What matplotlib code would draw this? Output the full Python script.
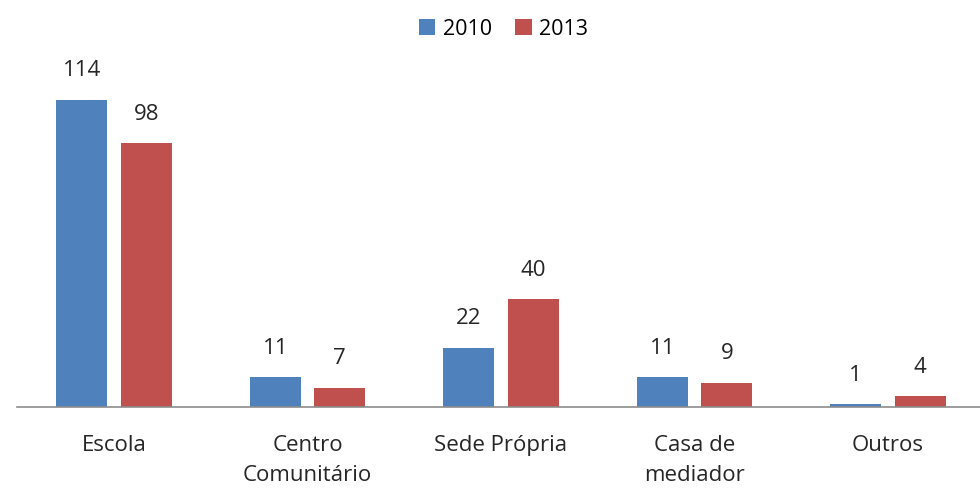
import numpy as np
import matplotlib.pyplot as plt

categories = ['Escola', 'Centro\nComunitário', 'Sede Própria', 'Casa de\nmediador', 'Outros']
series_2010 = [114, 11, 22, 11, 1]
series_2013 = [98, 7, 40, 9, 4]

BLUE = '#4F81BD'
RED = '#C0504D'

plt.rcParams['font.family'] = ['Open Sans', 'DejaVu Sans']

fig = plt.figure(figsize=(9.8, 4.88), dpi=100)
ax = fig.add_axes([17.25 / 980, 0.166, 967.5 / 980, 0.717])

x = np.arange(len(categories))
w = 0.264
off = 0.1667
b1 = ax.bar(x - off, series_2010, w, color=BLUE, label='2010')
b2 = ax.bar(x + off, series_2013, w, color=RED, label='2013')

for bars in (b1, b2):
    for r in bars:
        ax.annotate(f'{int(r.get_height())}', (r.get_x() + r.get_width() / 2, r.get_height()),
                    xytext=(0, 21), textcoords='offset points', ha='center', va='center',
                    fontsize=16, color='#262626')

ax.set_xlim(-0.5, len(categories) - 0.5)
ax.set_ylim(0, 130)
ax.set_xticks(x)
ax.set_xticklabels(categories, fontsize=16, color='#262626', linespacing=1.6)
ax.tick_params(axis='x', length=0, pad=20)
ax.set_yticks([])
for s in ('top', 'right', 'left'):
    ax.spines[s].set_visible(False)
ax.spines['bottom'].set_color('#8c8c8c')
ax.spines['bottom'].set_linewidth(1.2)

fig.legend(handles=[b1, b2], loc='center', bbox_to_anchor=(503.5 / 980, 0.94), ncol=2, frameon=False,
           fontsize=15.5, handlelength=0.75, handleheight=0.75, handletextpad=0.36, columnspacing=1.1)

fig.savefig('out.png', dpi=100)
